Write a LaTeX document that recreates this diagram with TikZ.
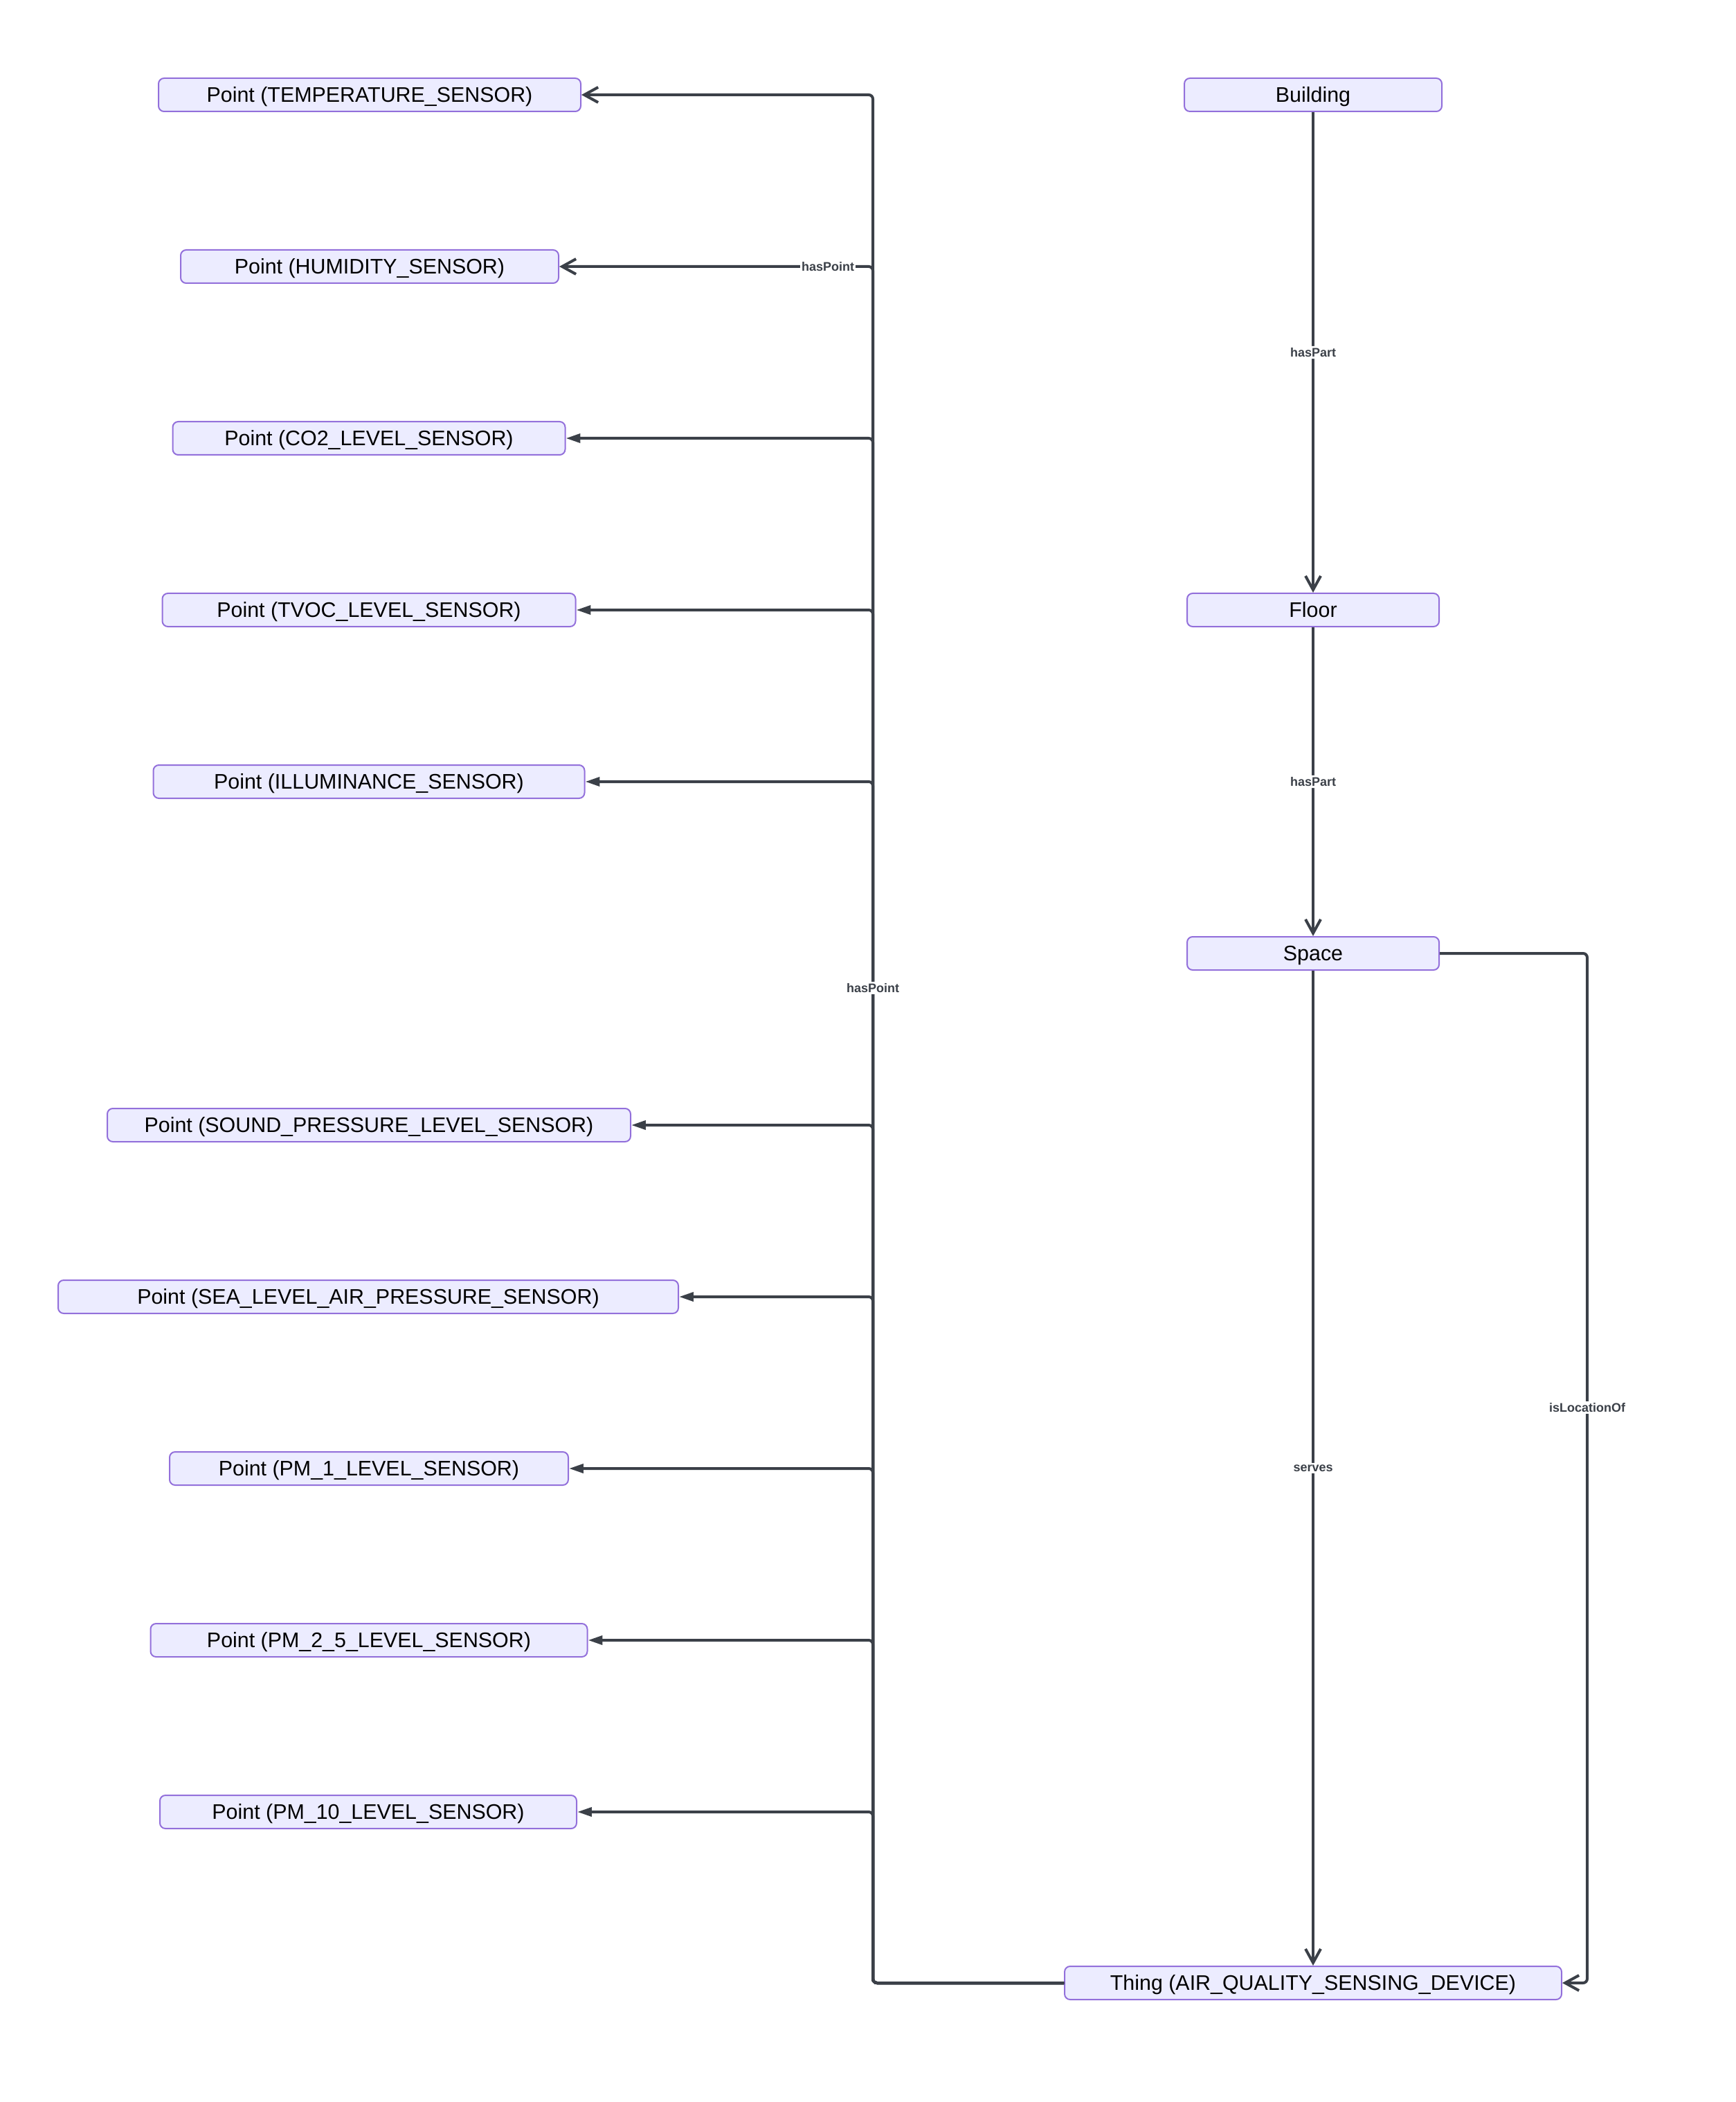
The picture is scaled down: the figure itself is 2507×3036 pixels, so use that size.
\documentclass[tikz,border=0pt]{standalone}
\usepackage{fontspec}
\setmainfont{Liberation Sans}
\usetikzlibrary{arrows.meta, positioning}
\definecolor{nodefill}{RGB}{236,236,255}
\definecolor{nodeline}{RGB}{147,112,219}
\definecolor{edgegray}{RGB}{59,64,72}

\begin{document}
\begin{tikzpicture}[x=0.25pt, y=-0.25pt,
  every node/.style={font=\fontsize{7.6}{9}\selectfont},
  box/.style={draw=nodeline, fill=nodefill, line width=0.5pt, rounded corners=2pt, minimum height=12pt, inner ysep=0pt, inner xsep=4pt, text height=5.6pt, text depth=0.3pt},
  arr/.style={-{Straight Barb[length=5pt, width=5.5pt]}, line width=1pt, edgegray, rounded corners=1.5pt},
  arrf/.style={arr, -{Triangle[length=5.2pt, width=3.2pt]}},
  lbl/.style={font=\fontsize{4.5}{5}\selectfont\bfseries, text=edgegray, fill=white, inner sep=0.6pt},
]
  \useasboundingbox (0,0) rectangle (2507,3036);

  % sensor points
  \node[box, minimum width=152.5pt] (ptemp)  at (534, 137)  {Point (TEMPERATURE\_SENSOR)};
  \node[box, minimum width=136.5pt] (phum)   at (534, 385)  {Point (HUMIDITY\_SENSOR)};
  \node[box, minimum width=141.75pt] (pco)   at (533, 633)  {Point (CO2\_LEVEL\_SENSOR)};
  \node[box, minimum width=149.25pt] (ptvoc) at (533, 881)  {Point (TVOC\_LEVEL\_SENSOR)};
  \node[box, minimum width=155.75pt] (pillum) at (533, 1129) {Point (ILLUMINANCE\_SENSOR)};
  \node[box, minimum width=189pt] (psound)   at (533, 1625) {Point (SOUND\_PRESSURE\_LEVEL\_SENSOR)};
  \node[box, minimum width=224pt] (psea)     at (532, 1873) {Point (SEA\_LEVEL\_AIR\_PRESSURE\_SENSOR)};
  \node[box, minimum width=144pt] (ppma)     at (533, 2121) {Point (PM\_1\_LEVEL\_SENSOR)};
  \node[box, minimum width=157.75pt] (ppmb)  at (533, 2369) {Point (PM\_2\_5\_LEVEL\_SENSOR)};
  \node[box, minimum width=150.5pt] (ppmc)   at (532, 2617) {Point (PM\_10\_LEVEL\_SENSOR)};

  % building hierarchy
  \node[box, minimum width=93pt] (bld) at (1897, 137)  {Building};
  \node[box, minimum width=91pt] (flr) at (1897, 881)  {Floor};
  \node[box, minimum width=91pt] (spc) at (1897, 1377) {Space};
  \node[box, minimum width=179.5pt] (thg) at (1897, 2864) {Thing (AIR\_QUALITY\_SENSING\_DEVICE)};

  \coordinate (bus) at (1261, 2864);
  \coordinate (loc) at (2293, 1377);

  \foreach \p in {ptemp, phum}
    \draw[arr] (thg.west) -- (bus) |- (\p.east);
  \foreach \p in {pco, ptvoc, pillum, psound, psea, ppma, ppmb, ppmc}
    \draw[arrf] (thg.west) -- (bus) |- (\p.east);
  \node[lbl] (hpa) at (1196, 385)  {hasPoint};
  \node[lbl] (hpb) at (1261, 1427) {hasPoint};

  \draw[arr] (bld) -- node[lbl] (hpt1) {hasPart} (flr);
  \draw[arr] (flr) -- node[lbl] (hpt2) {hasPart} (spc);
  \draw[arr] (spc) -- node[lbl] (srv) {serves} (thg);
  \draw[arr] (spc.east) -- (loc) |- (thg.east);
  \node[lbl] (isl) at (2293, 2033) {isLocationOf};
\end{tikzpicture}
\end{document}
